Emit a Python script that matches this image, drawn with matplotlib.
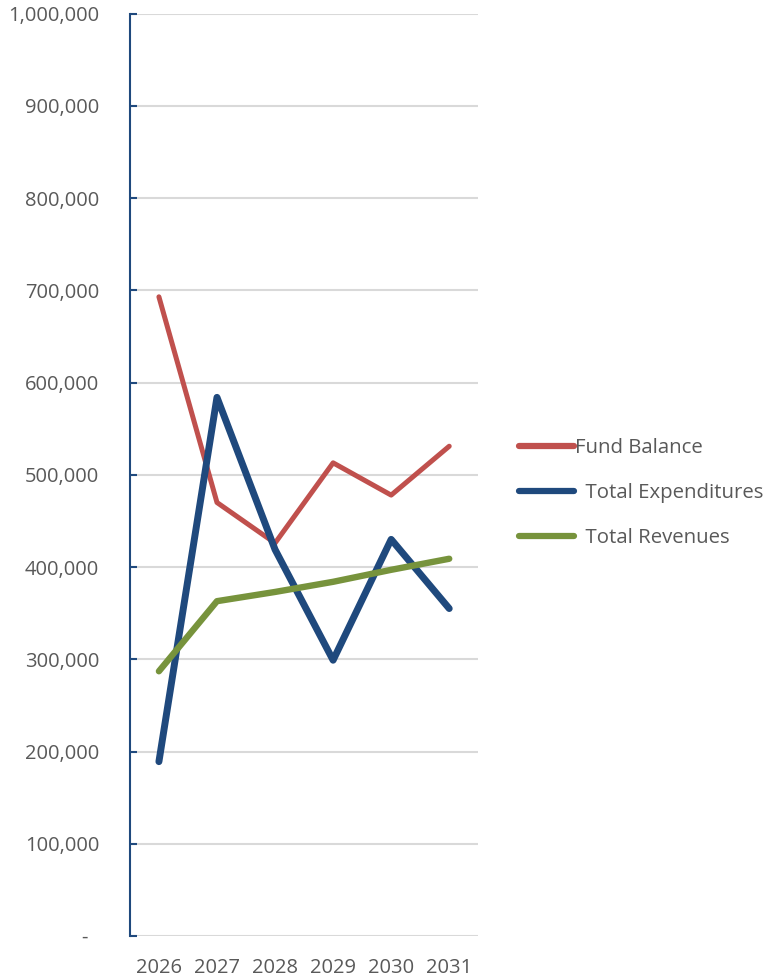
import matplotlib.pyplot as plt
from matplotlib.ticker import FuncFormatter

plt.rcParams['font.family'] = ['Open Sans', 'DejaVu Sans']

anos = ['2026', '2027', '2028', '2029', '2030', '2031']
fund_balance = [693000, 470000, 426000, 513000, 478000, 531000]
total_expenditures = [189000, 584000, 419000, 299000, 430000, 355000]
total_revenues = [287000, 363000, 373000, 384000, 397000, 409000]

cinza = '#595959'

fig = plt.figure(figsize=(7.64, 9.77), dpi=100)
ax = fig.add_axes([0.170, 0.042, 0.456, 0.944])

x = range(len(anos))
ax.plot(x, fund_balance, color='#C0504D', lw=3.6, solid_capstyle='round',
        solid_joinstyle='round', label='Fund Balance', zorder=3)
ax.plot(x, total_expenditures, color='#1F497D', lw=5.0, solid_capstyle='round',
        solid_joinstyle='round', label='  Total Expenditures', zorder=4)
ax.plot(x, total_revenues, color='#77933C', lw=4.6, solid_capstyle='round',
        solid_joinstyle='round', label='  Total Revenues', zorder=5)

ax.set_xlim(-0.5, len(anos) - 0.5)
ax.set_ylim(0, 1000000)
ax.set_yticks(range(0, 1000001, 100000))
ax.yaxis.set_major_formatter(FuncFormatter(
    lambda v, p: '-  ' if v == 0 else f'{int(v):,}'))
ax.set_xticks(list(x))
ax.set_xticklabels(anos)

ax.grid(axis='y', color='#D9D9D9', lw=1.5, zorder=0)
ax.set_axisbelow(True)
for s in ['top', 'right', 'bottom']:
    ax.spines[s].set_visible(False)
ax.spines['left'].set_color('#1F497D')
ax.spines['left'].set_linewidth(1.5)

ax.tick_params(axis='y', direction='in', length=5, width=1.5, color='#1F497D',
               labelcolor=cinza, labelsize=14.5, pad=22)
ax.tick_params(axis='x', length=0, labelcolor=cinza, labelsize=14.5, pad=16)

leg = fig.legend(loc='center left', bbox_to_anchor=(0.655, 0.495), frameon=False,
                 fontsize=14.7, labelcolor=cinza, handlelength=2.7,
                 handletextpad=0.05, labelspacing=1.22)
for linha in leg.get_lines():
    linha.set_linewidth(4.5)
    linha.set_solid_capstyle('round')

plt.savefig('out.png', dpi=100)
